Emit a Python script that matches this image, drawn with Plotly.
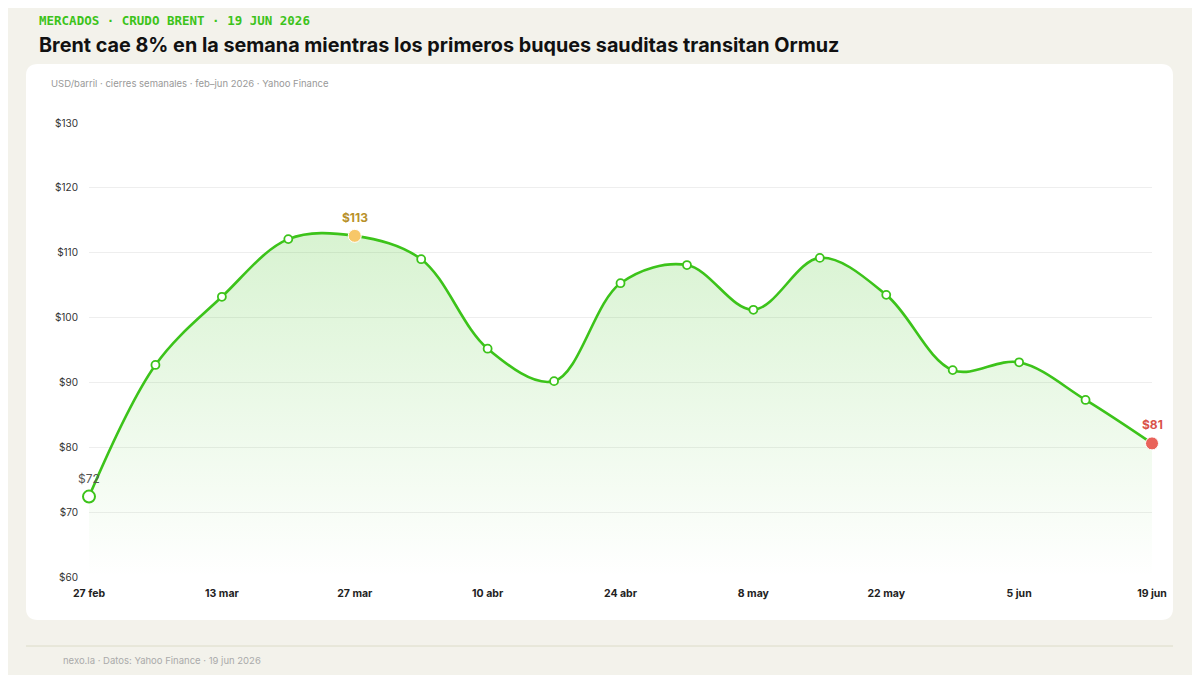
import plotly.graph_objects as go

dates = ["27 feb","6 mar","13 mar","20 mar","27 mar","3 abr","10 abr","17 abr","24 abr","1 may","8 may","15 may","22 may","29 may","5 jun","12 jun","19 jun"]
prices = [72.4,92.7,103.2,112.1,112.6,109.0,95.2,90.2,105.3,108.1,101.2,109.2,103.5,91.9,93.1,87.3,80.6]
tick_labels = ["27 feb","13 mar","27 mar","10 abr","24 abr","8 may","22 may","5 jun","19 jun"]
y_ticks = [60,70,80,90,100,110,120,130]

GREEN = "#3cc31a"
x = list(range(len(dates)))
fig = go.Figure()
fig.add_trace(go.Scatter(x=x, y=prices, mode="lines", line=dict(color=GREEN, width=2.6, shape="spline", smoothing=1.0),
    fill="tozeroy", fillgradient=dict(type="vertical", start=60, stop=113,
        colorscale=[[0, "rgba(60,195,26,0.0)"], [1, "rgba(60,195,26,0.2)"]]),
    hoverinfo="skip", cliponaxis=False))
fig.add_trace(go.Scatter(x=x[1:-1], y=prices[1:-1], mode="markers", cliponaxis=False,
    marker=dict(size=8, color="white", line=dict(color=GREEN, width=1.8))))
fig.add_trace(go.Scatter(x=[x[0]], y=[prices[0]], mode="markers", cliponaxis=False,
    marker=dict(size=12, color="white", line=dict(color=GREEN, width=2))))
imax = prices.index(max(prices))
fig.add_trace(go.Scatter(x=[x[imax]], y=[prices[imax]], mode="markers", cliponaxis=False,
    marker=dict(size=13, color="#f7c768", line=dict(color="white", width=1))))
fig.add_trace(go.Scatter(x=[x[-1]], y=[prices[-1]], mode="markers", cliponaxis=False,
    marker=dict(size=13, color="#e9625a", line=dict(color="white", width=1))))

ann = [
    dict(x=x[0], y=prices[0], text="$%d" % round(prices[0]), showarrow=False, yshift=18, font=dict(size=12, color="#555", family="Inter"), xref="x", yref="y"),
    dict(x=x[imax], y=prices[imax], text="<b>$%d</b>" % round(prices[imax]), showarrow=False, yshift=18, font=dict(size=12, color="#b8912a", family="Inter"), xref="x", yref="y"),
    dict(x=x[-1], y=prices[-1], text="<b>$%d</b>" % round(prices[-1]), showarrow=False, yshift=19, font=dict(size=12, color="#d9534a", family="Inter"), xref="x", yref="y"),
    dict(x=-0.0489, y=1.2247, xref="paper", yref="paper", xanchor="left", yanchor="middle", showarrow=False,
         text="<b>MERCADOS · CRUDO BRENT · 19 JUN 2026</b>", font=dict(size=12.5, color="#3cc31a", family="DejaVu Sans Mono")),
    dict(x=-0.0489, y=1.1718, xref="paper", yref="paper", xanchor="left", yanchor="middle", showarrow=False,
         text="<b>Brent cae 8% en la semana mientras los primeros buques sauditas transitan Ormuz</b>", font=dict(size=19.8, color="#111", family="Inter")),
    dict(x=-0.0376, y=1.088, xref="paper", yref="paper", xanchor="left", yanchor="middle", showarrow=False,
         text="USD/barril · cierres semanales · feb–jun 2026 · Yahoo Finance", font=dict(size=9.5, color="#999", family="Inter")),
    dict(x=-0.0263, y=-0.185, xref="paper", yref="paper", xanchor="left", yanchor="middle", showarrow=False,
         text="nexo.la · Datos: Yahoo Finance · 19 jun 2026", font=dict(size=9.5, color="#aaa", family="Inter")),
]
x0, x1, yb, yt = -0.0593, 1.0198, -0.0947, 1.130
rx, ry = 0.0113, 0.0264
path = (f"M {x0+rx} {yt} L {x1-rx} {yt} Q {x1} {yt} {x1} {yt-ry} L {x1} {yb+ry} Q {x1} {yb} {x1-rx} {yb} "
        f"L {x0+rx} {yb} Q {x0} {yb} {x0} {yb+ry} L {x0} {yt-ry} Q {x0} {yt} {x0+rx} {yt} Z")
shapes = [
    dict(type="path", path=path, xref="paper", yref="paper", fillcolor="white", line=dict(width=0), layer="below"),
    dict(type="line", x0=-0.0593, x1=1.0198, y0=-0.152, y1=-0.152, xref="paper", yref="paper", line=dict(color="#dcdcc8", width=1)),
]
fig.update_layout(width=1200, height=675, margin=dict(l=81, r=56, t=115, b=106),
    paper_bgcolor="#f3f2eb", plot_bgcolor="rgba(0,0,0,0)", showlegend=False,
    annotations=ann, shapes=shapes,
    xaxis=dict(tickvals=[dates.index(t) for t in tick_labels], ticktext=["<b>%s</b>" % t for t in tick_labels],
               range=[0, len(dates)-1], showgrid=False, zeroline=False, tickfont=dict(size=10.5, color="#222", family="Inter"),
               ticks="", showline=False, ticklabelstandoff=8),
    yaxis=dict(range=[60, 130], tickvals=y_ticks, ticktext=["$%d" % v for v in y_ticks], gridcolor="#eeeeee",
               zeroline=False, tickfont=dict(size=10, color="#333", family="Inter"), ticklabelstandoff=10))
fig.write_html("out.html")
